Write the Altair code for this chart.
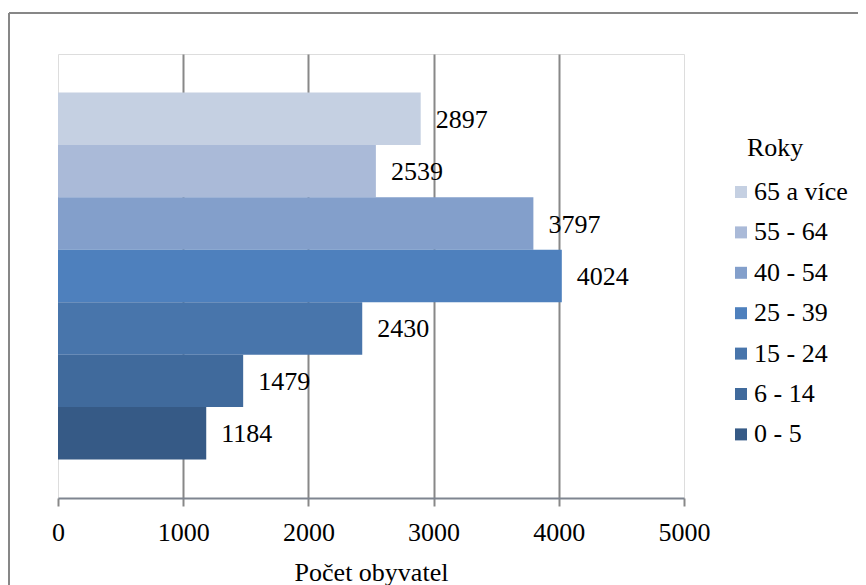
import altair as alt
import pandas as pd

groups = ["65 a více", "55 - 64", "40 - 54", "25 - 39", "15 - 24", "6 - 14", "0 - 5"]
values = [2897, 2539, 3797, 4024, 2430, 1479, 1184]
colors = ["#c5d0e2", "#aabad8", "#839fcb", "#4e80bd", "#4875ab", "#406a9c", "#365a86"]
ticks = [0, 1000, 2000, 3000, 4000, 5000]

df = pd.DataFrame({"group": groups, "value": values})
FONT = "Times New Roman"
FS = 26

y_enc = alt.Y("group:N", sort=groups, axis=None,
              scale=alt.Scale(paddingInner=0, paddingOuter=0.734))

base = alt.Chart(df)

bars = base.mark_bar(strokeWidth=0).encode(
    x=alt.X("value:Q",
            scale=alt.Scale(domain=[0, 5000], nice=False),
            axis=alt.Axis(values=ticks, format="d", title="Počet obyvatel",
                          labelFont=FONT, labelFontSize=FS, labelColor="black",
                          titleFont=FONT, titleFontSize=FS, titleFontWeight="normal",
                          titleColor="black", titlePadding=14,
                          domainColor="#7f8590", domainWidth=2,
                          tickColor="#888888", tickWidth=2, tickSize=8,
                          labelPadding=13, labelFlush=False,
                          grid=True, gridColor="#888888", gridWidth=2,
                          gridOpacity={"condition": {"test": "datum.value == 0 || datum.value == 5000", "value": 0}, "value": 1})),
    y=y_enc,
    color=alt.Color("group:N",
                    scale=alt.Scale(domain=groups, range=colors),
                    legend=alt.Legend(orient="none", legendX=670, legendY=125,
                                      title=None, symbolType="square", symbolSize=144,
                                      symbolStrokeWidth=0, labelFont=FONT,
                                      labelFontSize=FS, labelColor="black",
                                      rowPadding=14.4, labelOffset=0)),
)

labels = base.mark_text(align="left", baseline="middle", dx=15, dy=1,
                        font=FONT, fontSize=FS, color="black").encode(
    x="value:Q", y=y_enc, text="value:Q")

one = alt.Chart(pd.DataFrame({"a": [0]}))
legend_title = one.mark_text(align="left", baseline="middle", font=FONT,
                             fontSize=FS, color="black", text="Roky").encode(
    x=alt.value(689), y=alt.value(94))

frame_top = one.mark_rule(color="#878787", strokeWidth=2).encode(
    x=alt.value(-49), x2=alt.value(800), y=alt.value(-41))
frame_left = one.mark_rule(color="#878787", strokeWidth=2).encode(
    x=alt.value(-49), y=alt.value(-41), y2=alt.value(540))

chart = alt.layer(frame_top, frame_left, bars, labels, legend_title).properties(
    width=626, height=444,
    autosize=alt.AutoSizeParams(type="none"),
    padding={"left": 50, "top": 46, "right": 174, "bottom": 87},
).configure_view(stroke="#4f81bd", strokeWidth=2).configure(
    background="white", font=FONT)

chart.save("out.html", embed_options={"renderer": "svg", "actions": False})
